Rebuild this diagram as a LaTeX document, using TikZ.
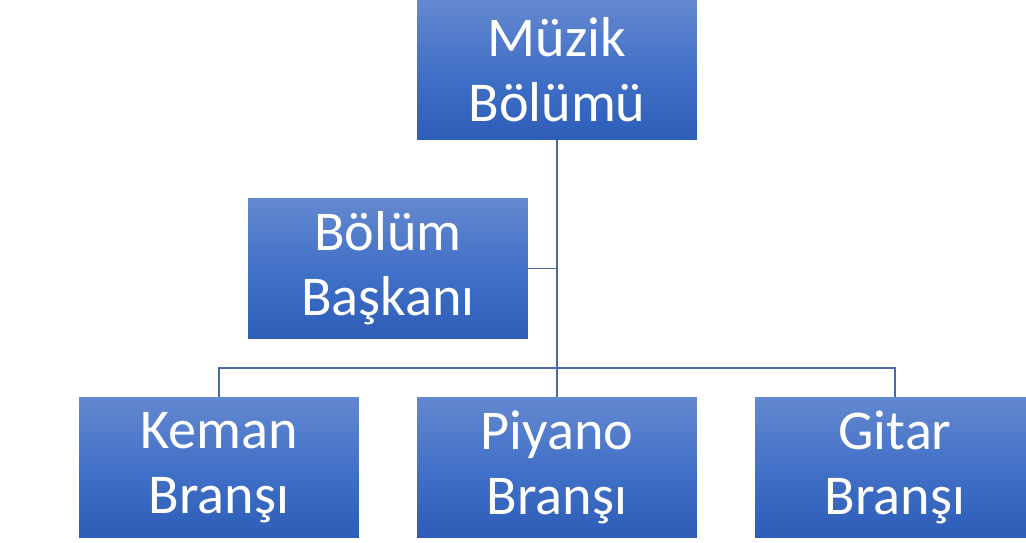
\documentclass[tikz,border=0pt]{standalone}
\usepackage{fontspec}
\setmainfont{Carlito}
\definecolor{boxtop}{RGB}{100,136,207}
\definecolor{boxmid}{RGB}{66,113,200}
\definecolor{boxbot}{RGB}{46,93,184}
\definecolor{linkline}{RGB}{72,106,168}
\begin{document}
\begin{tikzpicture}[
				x=0.02cm, y=-0.02cm,
				every node/.style={rectangle, minimum width=5.6cm, minimum height=2.8cm, inner sep=0,
					top color=boxtop, bottom color=boxbot, middle color=boxmid,
					text=white, align=center, font=\fontsize{32}{37}\selectfont},
				link/.style={draw=linkline, line width=0.7pt},
			]
			\useasboundingbox (0,0) rectangle (1026,542);
			\clip (0,0) rectangle (1026,542);
			\node (head) at (557,70) {Müzik\\Bölümü};
			\node (chair) at (388,268.5) {Bölüm\\Başkanı};
			\node (violin) at (219,467.5) {Keman\\Branşı};
			\node (piano) at (557,467.5) {Piyano\\Branşı};
			\node (guitar) at (895,467.5) {Gitar\\Branşı};
				\coordinate (bus) at (557,368);
				\draw[link] (head.south) -- (piano.north);
				\draw[link] (chair.east) -- (chair.east -| head.south);
				\draw[link] (violin.north) |- (bus) -| (guitar.north);
			\end{tikzpicture}
\end{document}
